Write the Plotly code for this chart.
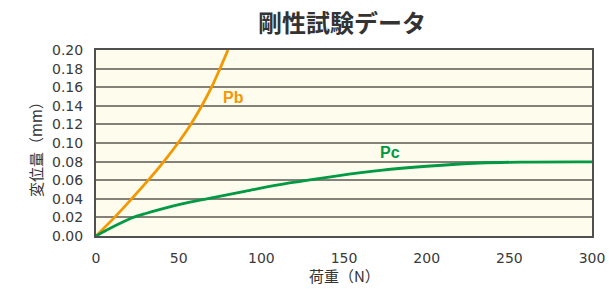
import plotly.graph_objects as go

# Pb curve (load N, displacement mm)
pb_load = [0, 11.2, 21.6, 31.6, 41.0, 49.6, 57.3, 64.0, 69.9, 75.0, 79.8]
pb_disp = [0.00, 0.02, 0.04, 0.06, 0.08, 0.10, 0.12, 0.14, 0.16, 0.18, 0.20]

# Pc curve
pc_load = [0, 8, 15, 21.6, 30, 40, 52, 67, 90, 117, 145, 172, 200, 232, 260, 300]
pc_disp = [0.0, 0.0078, 0.0140, 0.0193, 0.0242, 0.0292, 0.0345, 0.040, 0.048, 0.057, 0.0645, 0.0706, 0.075, 0.0785, 0.0795, 0.0797]

x_ticks = [0, 50, 100, 150, 200, 250, 300]
y_ticks = [0.00, 0.02, 0.04, 0.06, 0.08, 0.10, 0.12, 0.14, 0.16, 0.18, 0.20]

title_text = "剛性試験データ"
x_title = "荷重（N）"
y_title = "変位量（mm）"

CJK = "Noto Sans CJK JP"
NUM = "DejaVu Sans"
ORANGE = "#F39800"
GREEN = "#009944"
TXT = "#3a3a3a"

fig = go.Figure()
fig.add_trace(go.Scatter(x=pb_load, y=pb_disp, mode="lines",
                         line=dict(color=ORANGE, width=2.8, shape="spline", smoothing=1.0), showlegend=False))
fig.add_trace(go.Scatter(x=pc_load, y=pc_disp, mode="lines",
                         line=dict(color=GREEN, width=2.8, shape="spline", smoothing=1.0), showlegend=False))

fig.add_annotation(x=82.9, y=0.1485, text="<b>Pb</b>", showarrow=False,
                   font=dict(family="Liberation Sans", size=16, color=ORANGE))
fig.add_annotation(x=177.9, y=0.0895, text="<b>Pc</b>", showarrow=False,
                   font=dict(family="Liberation Sans", size=16, color=GREEN))

# axis titles placed as annotations
fig.add_annotation(x=0.5, xref="paper", y=0, yref="paper", yanchor="middle", xanchor="center",
                   yshift=-39.5, text=x_title, showarrow=False,
                   font=dict(family=CJK, size=15, color="#333333"))
fig.add_annotation(x=0, xref="paper", y=0.5, yref="paper", xanchor="center", yanchor="middle",
                   xshift=-61, yshift=-3, text=y_title, textangle=-90, showarrow=False,
                   font=dict(family=CJK, size=15, color="#333333"))

fig.update_layout(
    width=609, height=289,
    margin=dict(l=96, r=17, t=50, b=52.5, autoexpand=False),
    paper_bgcolor="white",
    plot_bgcolor="#FEFCEC",
    font=dict(family=NUM, color=TXT, size=14),
    title=dict(text="<b>" + title_text + "</b>", x=342 / 609, xanchor="center",
               y=1 - 24 / 289, yanchor="middle",
               font=dict(family=CJK, size=24, color="#333333")),
)
fig.update_xaxes(range=[0, 300], tickvals=x_ticks, ticktext=[str(v) for v in x_ticks],
                 showgrid=False, zeroline=False, showline=True, linecolor="#505050", linewidth=2, mirror=True,
                 ticks="", ticklabelstandoff=8, automargin=False,
                 tickfont=dict(family=NUM, size=14, color=TXT))
fig.update_yaxes(range=[0, 0.20], tickvals=y_ticks, ticktext=["%.2f" % v for v in y_ticks],
                 showgrid=True, gridcolor="#858078", gridwidth=1.7, zeroline=False,
                 showline=True, linecolor="#505050", linewidth=2, mirror=True,
                 ticks="", ticklabelstandoff=8, automargin=False,
                 tickfont=dict(family=NUM, size=14, color=TXT))

fig.write_html("out.html", config={"displayModeBar": False},
               post_script="document.body.style.margin='0';document.body.style.padding='0';document.body.style.overflow='hidden';")
